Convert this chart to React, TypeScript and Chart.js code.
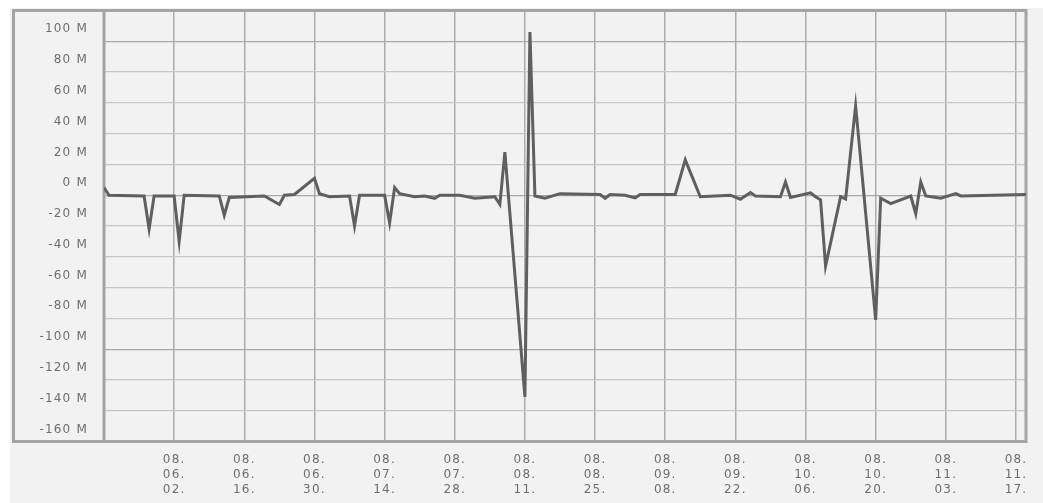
import React, { useEffect, useRef } from "react";
import { Chart, registerables } from "chart.js";

Chart.register(...registerables);

const dates: string[] = [
  "2008-05-19", "2008-05-20", "2008-05-27", "2008-05-28", "2008-05-29",
  "2008-06-02", "2008-06-03", "2008-06-04", "2008-06-11", "2008-06-12",
  "2008-06-13", "2008-06-20", "2008-06-23", "2008-06-24", "2008-06-26",
  "2008-06-30", "2008-07-01", "2008-07-03", "2008-07-07", "2008-07-08",
  "2008-07-09", "2008-07-14", "2008-07-15", "2008-07-16", "2008-07-17",
  "2008-07-20", "2008-07-22", "2008-07-24", "2008-07-25", "2008-07-29",
  "2008-08-01", "2008-08-05", "2008-08-06", "2008-08-07", "2008-08-11",
  "2008-08-12", "2008-08-13", "2008-08-15", "2008-08-18", "2008-08-26",
  "2008-08-27", "2008-08-28", "2008-08-31", "2008-09-02", "2008-09-03",
  "2008-09-10", "2008-09-12", "2008-09-15", "2008-09-21", "2008-09-23",
  "2008-09-25", "2008-09-26", "2008-10-01", "2008-10-02", "2008-10-03",
  "2008-10-07", "2008-10-08", "2008-10-09", "2008-10-10", "2008-10-13",
  "2008-10-14", "2008-10-16", "2008-10-20", "2008-10-21", "2008-10-23",
  "2008-10-27", "2008-10-28", "2008-10-29", "2008-10-30", "2008-11-02",
  "2008-11-05", "2008-11-06", "2008-11-19",
];

// values in million
const values: number[] = [
  5, 0, -0.5, -22, -0.5,
  -0.5, -30, 0, -0.5, -13,
  -1.5, -0.5, -6, 0, 0.5,
  11, 1, -1, -0.5, -20,
  0, 0, -18, 5, 1,
  -1, -0.5, -2, 0, 0,
  -2, -1, -6, 28, -131,
  106, -0.5, -2, 1, 0.5,
  -2, 0.5, 0, -1.7, 0.5,
  0.5, 23, -1, 0, -2.6,
  1.7, -0.5, -1, 8.6, -1.5,
  1.5, -1, -3, -46, -1,
  -2.5, 58, -81, -2, -5.5,
  -0.5, -12, 8.6, -0.5, -2,
  1, -0.5, 0.5,
];

const tickDates: string[] = [
  "2008-06-02", "2008-06-16", "2008-06-30", "2008-07-14", "2008-07-28",
  "2008-08-11", "2008-08-25", "2008-09-08", "2008-09-22", "2008-10-06",
  "2008-10-20", "2008-11-03", "2008-11-17",
];

const xMinDate = "2008-05-19";
const xMaxDate = "2008-11-19";
const yMin = -160;
const yMax = 120;
const yStep = 20;

const dayNum = (s: string) => {
  const [y, m, d] = s.split("-").map(Number);
  return Math.round(Date.UTC(y, m - 1, d) / 86400000);
};

const dayLabel = (n: number) => {
  const dt = new Date(n * 86400000);
  const yy = String(dt.getUTCFullYear() % 100).padStart(2, "0");
  const mm = String(dt.getUTCMonth() + 1).padStart(2, "0");
  const dd = String(dt.getUTCDate()).padStart(2, "0");
  return [yy + ".", mm + ".", dd + "."];
};

const FONT = "'DejaVu Sans', sans-serif";

const framePlugin = {
  id: "frame",
  beforeDraw(chart: any) {
    const ctx = chart.ctx as CanvasRenderingContext2D;
    ctx.save();
    ctx.fillStyle = "#ffffff";
    ctx.fillRect(0, 0, chart.width, chart.height);
    ctx.fillStyle = "#f2f2f2";
    ctx.fillRect(10, 8, chart.width - 10, chart.height - 8);
    ctx.restore();
    (ctx as any).letterSpacing = "1.2px";
  },
  beforeDatasetsDraw(chart: any) {
    const ctx = chart.ctx as CanvasRenderingContext2D;
    const a = chart.chartArea;
    ctx.save();
    ctx.strokeStyle = "#a4a4a4";
    ctx.lineWidth = 3;
    ctx.beginPath();
    ctx.moveTo(a.left, a.top);
    ctx.lineTo(a.left, a.bottom);
    ctx.stroke();
    ctx.strokeRect(13.5, a.top, a.right - 13.5, a.bottom - a.top);
    ctx.restore();
  },
};

export default function App() {
  const ref = useRef<HTMLCanvasElement>(null);

  useEffect(() => {
    if (!ref.current) return;
    const pts = dates.map((d, i) => ({ x: dayNum(d), y: values[i] }));
    const tickVals = tickDates.map(dayNum);
    const chart = new Chart(ref.current, {
      type: "line",
      data: {
        datasets: [
          {
            data: pts,
            borderColor: "#5f5f5f",
            borderWidth: 3,
            pointRadius: 0,
            tension: 0,
            fill: false,
          },
        ],
      },
      plugins: [framePlugin],
      options: {
        animation: false,
        responsive: false,
        parsing: false,
        layout: { padding: { top: 10.5, right: 17, left: 0, bottom: 0 } },
        plugins: { legend: { display: false }, tooltip: { enabled: false } },
        scales: {
          x: {
            type: "linear",
            min: dayNum(xMinDate),
            max: dayNum(xMaxDate),
            afterBuildTicks: (scale: any) => {
              scale.ticks = tickVals.map((v) => ({ value: v }));
            },
            afterFit: (scale: any) => {
              scale.height = 61.5;
              scale.paddingLeft = 0;
              scale.paddingRight = 0;
            },
            border: { display: false },
            grid: { color: "#acacac", lineWidth: 1.5, drawTicks: false },
            ticks: {
              autoSkip: false,
              maxRotation: 0,
              padding: 11,
              color: "#6e6e6e",
              font: { family: FONT, size: 12, lineHeight: "15px" as any },
              callback: (v: any) => dayLabel(Number(v)),
            },
          },
          y: {
            min: yMin,
            max: yMax,
            afterFit: (scale: any) => {
              scale.width = 104;
              scale.paddingTop = 0;
              scale.paddingBottom = 0;
            },
            border: { display: false },
            grid: {
              drawTicks: false,
              lineWidth: 1.2,
              color: (c: any) =>
                c.tick && (c.tick.value === 0 || Math.abs(c.tick.value) === 100)
                  ? "#a8a8a8"
                  : "#c6c6c6",
            },
            ticks: {
              stepSize: yStep,
              padding: 16,
              labelOffset: -12,
              color: "#6e6e6e",
              font: { family: FONT, size: 12 },
              callback: (v: any) => (Number(v) === yMax ? "" : `${v} M`),
            },
          },
        },
      },
    });
    return () => chart.destroy();
  }, []);

  return (
    <div style={{ position: "absolute", left: 0, top: 0, width: 1043, height: 503 }}>
      <canvas ref={ref} width={1043} height={503} style={{ width: 1043, height: 503 }} />
    </div>
  );
}
